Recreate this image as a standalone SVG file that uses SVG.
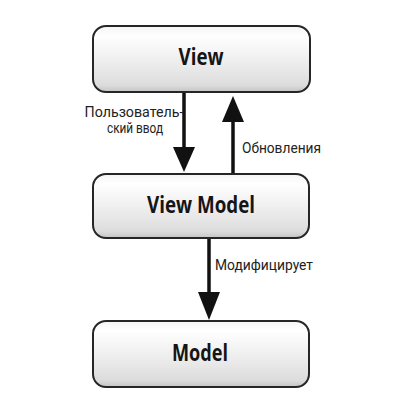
<svg xmlns="http://www.w3.org/2000/svg" width="408" height="410" viewBox="0 0 408 410">
<defs>
<linearGradient id="g" x1="0" y1="0" x2="0" y2="1">
<stop offset="0" stop-color="#f4f4f4"/>
<stop offset="0.15" stop-color="#ffffff"/>
<stop offset="0.6" stop-color="#ebebeb"/>
<stop offset="0.9" stop-color="#dcdcdc"/>
<stop offset="1" stop-color="#c4c4c4"/>
</linearGradient>
<marker id="ah" viewBox="0 0 22 26" refX="11" refY="26" markerWidth="22" markerHeight="26" markerUnits="userSpaceOnUse" orient="auto-start-reverse">
<path d="M0,0 L22,0 L11,26 Z" fill="#111"/>
</marker>
<style>
.box{fill:url(#g);stroke:#262626;stroke-width:2}
.t{font-family:"Open Sans","Liberation Sans",sans-serif;font-weight:700;font-size:23px;fill:#151515;text-anchor:middle}
.l{font-family:Roboto,"Liberation Sans",sans-serif;font-size:14px;fill:#222}
.c{stroke:#111;stroke-width:3.5;fill:none}
</style>
</defs>
<rect width="408" height="410" fill="#fff"/>
<g id="connectors">
<line class="c" x1="184" y1="93" x2="184" y2="148"/>
<path d="M173,147 L195,147 L184,172 Z" fill="#111"/>
<line class="c" x1="233" y1="174" x2="233" y2="120"/>
<path d="M222,122 L244,122 L233,96 Z" fill="#111"/>
<line class="c" x1="209" y1="239" x2="209" y2="294"/>
<path d="M198,292 L220,292 L209,320 Z" fill="#111"/>
<text class="l" x="134" y="117" text-anchor="middle" textLength="99" lengthAdjust="spacingAndGlyphs">Пользователь-</text>
<text class="l" x="135" y="133" text-anchor="middle" textLength="56" lengthAdjust="spacingAndGlyphs">ский ввод</text>
<text class="l" x="242" y="153" textLength="79" lengthAdjust="spacingAndGlyphs">Обновления</text>
<text class="l" x="215" y="270" textLength="98" lengthAdjust="spacingAndGlyphs">Модифицирует</text>
</g>
<g id="view">
<rect class="box" x="93" y="26" width="217" height="66" rx="13"/>
<text class="t" x="201" y="65" textLength="45" lengthAdjust="spacingAndGlyphs">View</text>
</g>
<g id="viewmodel">
<rect class="box" x="93" y="174" width="216" height="64" rx="13"/>
<text class="t" x="201" y="213" textLength="108" lengthAdjust="spacingAndGlyphs">View Model</text>
</g>
<g id="model">
<rect class="box" x="93" y="321" width="216" height="66" rx="13"/>
<text class="t" x="200" y="361" textLength="56" lengthAdjust="spacingAndGlyphs">Model</text>
</g>
</svg>
